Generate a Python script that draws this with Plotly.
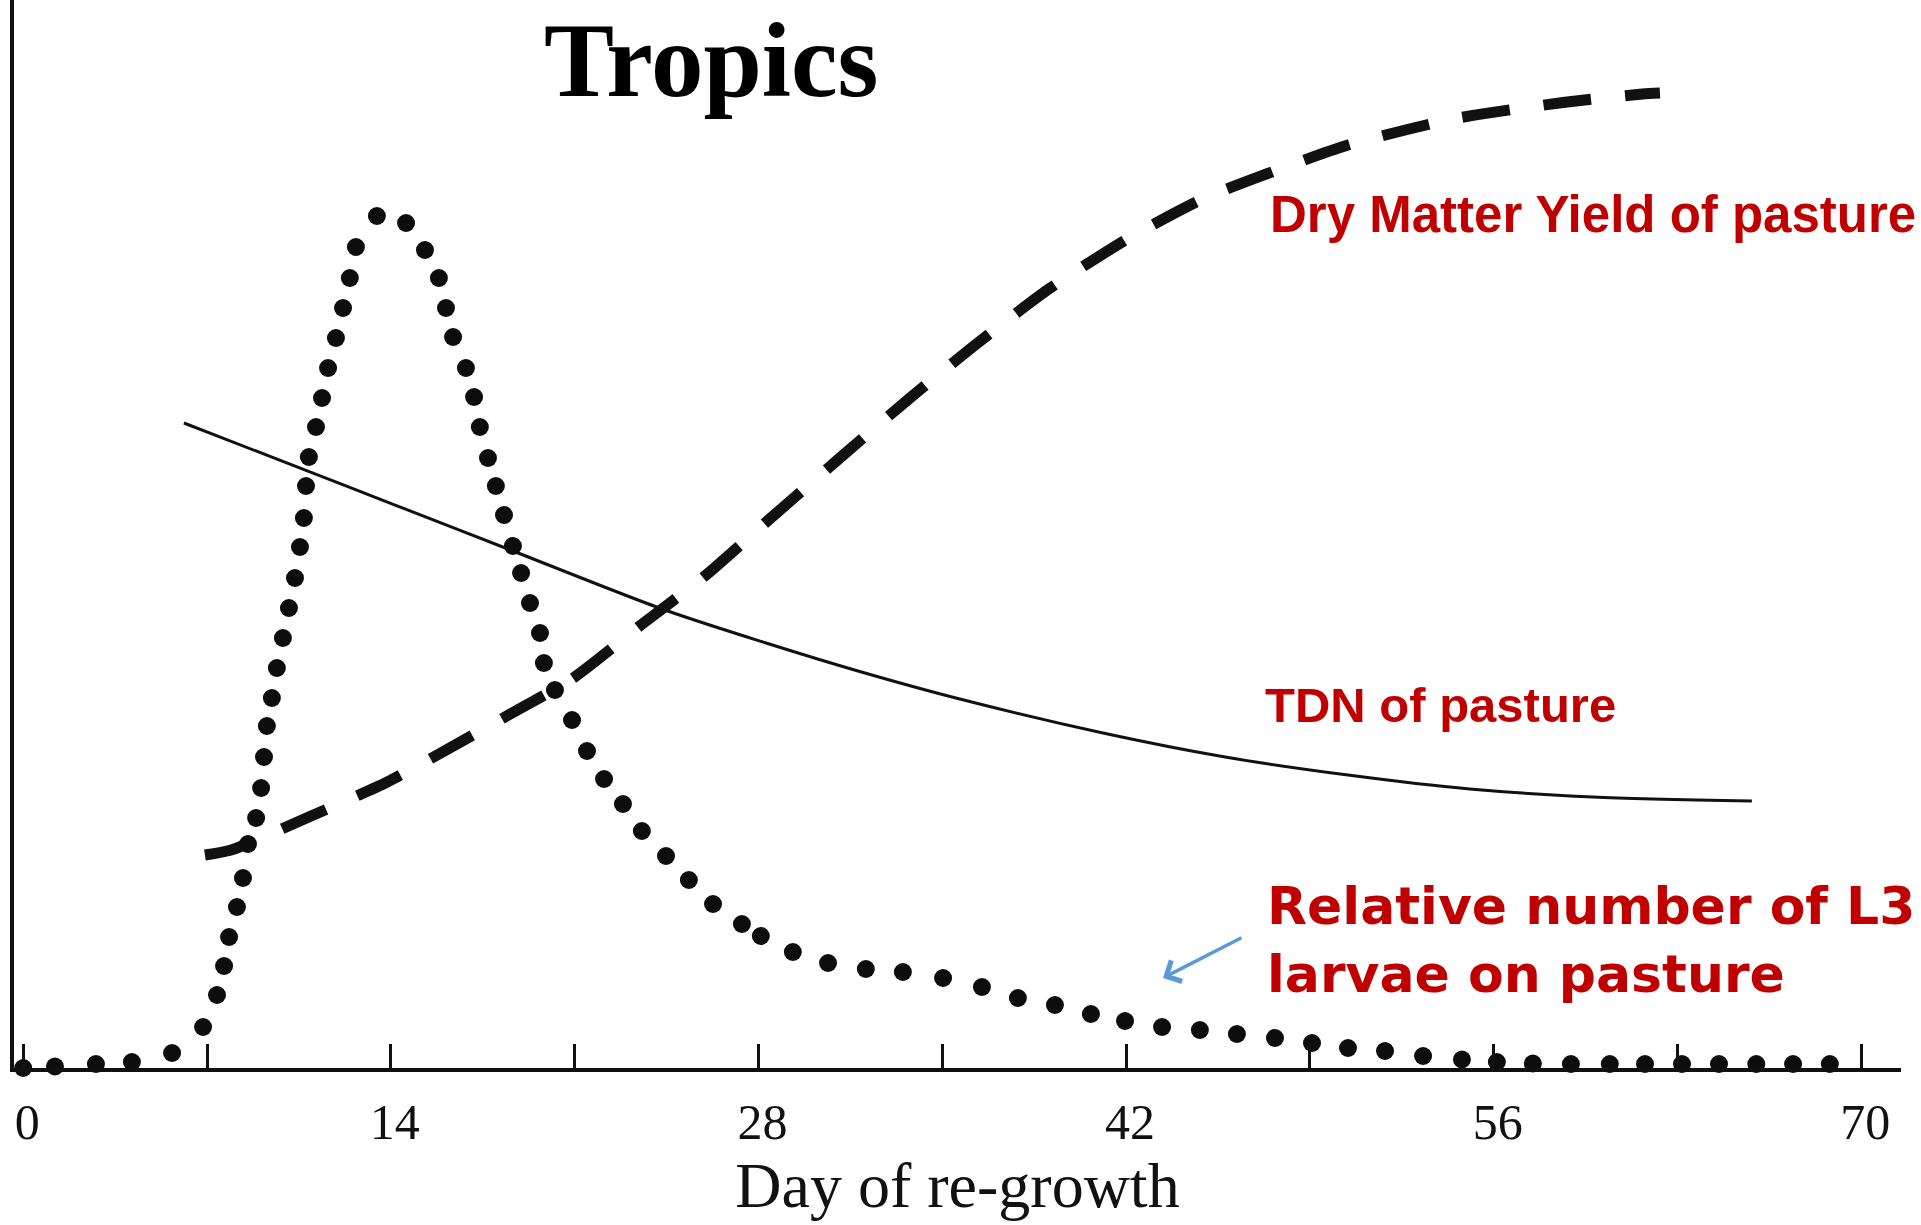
import plotly.graph_objects as go

# ---------------- data ----------------
# x = day of re-growth, y = relative units (0 = axis)
tdn_day = [6.12, 10.77, 14.04, 18.46, 24.33, 28.29, 31.79, 35.52, 41.12, 45.77,
           50.45, 55.09, 59.78, 65.83]
tdn_val = [64.5, 59.76, 56.42, 51.9, 45.9, 42.5, 39.7, 37.0, 33.5, 31.1,
           29.3, 27.9, 27.1, 26.7]

dmy_day = [6.92, 7.92, 10.92, 13.83, 15.70, 18.48, 20.92, 23.60, 25.98, 28.23,
           31.01, 33.77, 36.13, 39.00, 42.11, 44.95, 47.29, 50.39, 54.43, 58.64,
           61.67, 62.33]
dmy_val = [21.3, 21.8, 25.15, 28.55, 31.2, 35.3, 38.95, 44.45, 49.25, 54.45,
           60.8, 67.0, 72.05, 77.8, 83.0, 86.95, 89.35, 92.25, 94.9, 96.55,
           97.4, 97.5]

l3_day = [0.0, 1.21, 2.77, 4.14, 5.67, 6.85, 7.38, 7.65, 7.84, 8.14,
          8.37, 8.56, 8.87, 9.06, 9.17, 9.28, 9.47, 9.66, 9.89, 10.12,
          10.35, 10.54, 10.69, 10.77, 10.88, 11.15, 11.38, 11.61, 11.91, 12.18,
          12.44, 12.67, 13.47, 14.58, 15.30, 15.83, 16.10, 16.37, 16.86, 17.17,
          17.39, 17.70, 18.00, 18.31, 18.65, 18.96, 19.30, 19.68, 19.83, 20.25,
          20.90, 21.47, 22.12, 22.84, 23.56, 24.48, 25.35, 26.27, 27.37, 28.09,
          29.31, 30.65, 32.09, 33.50, 35.03, 36.51, 37.88, 39.29, 40.66, 41.96,
          43.37, 44.81, 46.22, 47.67, 49.08, 50.45, 51.86, 53.31, 54.79, 56.12,
          57.49, 58.94, 60.42, 61.76, 63.17, 64.58, 66.00, 67.40, 68.80]
l3_val = [0.0, 0.15, 0.4, 0.6, 1.5, 4.1, 7.3, 10.2, 13.1, 16.1,
          19.0, 22.4, 25.0, 28.0, 31.1, 34.2, 37.0, 40.0, 43.0, 46.0,
          49.0, 52.1, 55.0, 58.2, 61.1, 64.1, 67.0, 70.0, 73.0, 76.0,
          79.0, 82.1, 85.2, 84.5, 81.8, 79.0, 76.0, 73.1, 70.0, 67.1,
          64.1, 61.0, 58.2, 55.3, 52.2, 49.5, 46.5, 43.5, 40.5, 37.8,
          34.8, 31.7, 28.9, 26.4, 23.7, 21.2, 18.8, 16.4, 14.4, 13.2,
          11.6, 10.5, 9.9, 9.6, 9.0, 8.1, 7.0, 6.3, 5.4, 4.7,
          4.1, 3.8, 3.4, 3.0, 2.5, 2.0, 1.7, 1.2, 0.85, 0.6,
          0.45, 0.4, 0.4, 0.4, 0.4, 0.4, 0.4, 0.4, 0.4]

tick_days = [0, 7, 14, 21, 28, 35, 42, 49, 56, 63, 70]
tick_text = ["0", "", "14", "", "28", "", "42", "", "56", "", "70"]

title_text = "Tropics"
x_title = "Day of re-growth"
label_dmy = "Dry Matter Yield of pasture"
label_tdn = "TDN of pasture"
label_l3 = "Relative number of L3<br>larvae on pasture"

RED = "#C00000"
SERIF = "Liberation Serif, Times New Roman, serif"
SANS = "Liberation Sans, Arial, sans-serif"

fig = go.Figure()

fig.add_trace(go.Scatter(
    x=tdn_day, y=tdn_val, mode="lines", name="TDN",
    line=dict(color="#111111", width=3, shape="spline", smoothing=0.8),
    showlegend=False, hoverinfo="skip"))

fig.add_trace(go.Scatter(
    x=dmy_day, y=dmy_val, mode="lines", name="Dry matter yield",
    line=dict(color="#111111", width=11, dash="48px,34px", shape="spline", smoothing=0.6),
    showlegend=False, hoverinfo="skip"))

fig.add_trace(go.Scatter(
    x=l3_day, y=l3_val, mode="markers", name="L3 larvae",
    marker=dict(color="#0d0d0d", size=18, line=dict(width=0)),
    cliponaxis=False, showlegend=False, hoverinfo="skip"))

fig.update_layout(
    width=1921, height=1225,
    margin=dict(l=14, r=20, t=0, b=157),
    paper_bgcolor="white", plot_bgcolor="white",
    xaxis=dict(
        range=[-0.35, 71.51], showgrid=False, zeroline=False,
        showline=True, linewidth=4, linecolor="#111111",
        tickmode="array", tickvals=tick_days, ticktext=tick_text,
        ticks="inside", ticklen=24, tickwidth=3, tickcolor="#111111",
        tickfont=dict(family=SERIF, size=50, color="#111111"),
        ticklabelstandoff=7, ticklabelshift=4,
        title=dict(text=x_title, font=dict(family=SERIF, size=64, color="#111111"),
                   standoff=4),
    ),
    yaxis=dict(
        range=[0, 106.8], showgrid=False, zeroline=False,
        showline=True, linewidth=4, linecolor="#111111",
        showticklabels=False, ticks="",
    ),
)

annotations = [
    dict(text="<b>%s</b>" % title_text, x=0.3696, y=1.0, xref="paper", yref="paper",
         xanchor="center", yanchor="top", showarrow=False,
         font=dict(family=SERIF, size=105, color="black")),
    dict(text="<b>%s</b>" % label_dmy, x=0.6645, y=0.7992, xref="paper", yref="paper",
         xanchor="left", yanchor="middle", showarrow=False,
         font=dict(family=SANS, size=51, color=RED)),
    dict(text="<b>%s</b>" % label_tdn, x=0.6619, y=0.3399, xref="paper", yref="paper",
         xanchor="left", yanchor="middle", showarrow=False,
         font=dict(family=SANS, size=49, color=RED)),
    dict(text="<b>%s</b>" % label_l3, x=0.6630, y=0.1199, xref="paper", yref="paper",
         xanchor="left", yanchor="middle", align="left", showarrow=False,
         font=dict(family="DejaVu Sans, Verdana, sans-serif", size=52, color=RED)),
    dict(text="", x=0.6089, y=0.0843, xref="paper", yref="paper",
         showarrow=True, ax=80, ay=-41, arrowhead=4, arrowsize=1.3,
         arrowwidth=3.5, arrowcolor="#5B9BD5", standoff=0),
]
fig.update_layout(annotations=annotations)

fig.write_html("out.html", config={"displayModeBar": False},
               post_script="document.body.style.margin='0px';document.body.style.overflow='hidden';")
